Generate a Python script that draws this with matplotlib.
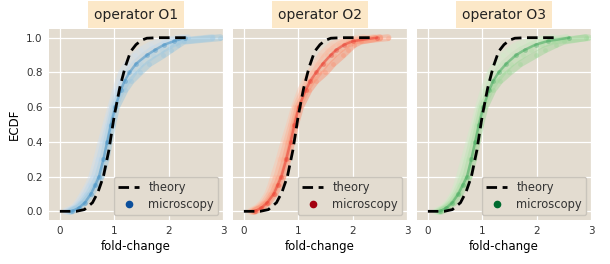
import numpy as np
import matplotlib
matplotlib.use("Agg")
import matplotlib.pyplot as plt

# ECDF levels shared by every measured series
ecdf_levels = [0.0, 0.02, 0.05, 0.1, 0.15, 0.2, 0.3, 0.4, 0.5, 0.6,
               0.7, 0.75, 0.8, 0.85, 0.9, 0.93, 0.96, 0.98, 1.0]

# theory curve
theory_fc = [0.0, 0.3, 0.45, 0.6, 0.7, 0.8, 0.9, 1.0, 1.1, 1.2, 1.3,
             1.4, 1.5, 1.6, 1.8, 2.4]
theory_ecdf = [0.0, 0.0, 0.01, 0.05, 0.11, 0.2, 0.35, 0.55, 0.71, 0.83,
               0.92, 0.96, 0.985, 0.997, 1.0, 1.0]

operators = ["O1", "O2", "O3"]
cmaps = ["Blues", "Reds", "Greens"]
legend_colors = ["#0b4f9c", "#a3000f", "#006b2f"]

# fold-change values at each ecdf level, several strains per operator
fc_O1 = [
    [0.10, 0.25, 0.33, 0.43, 0.52, 0.59, 0.68, 0.76, 0.85, 0.94, 1.03, 1.08, 1.14, 1.24, 1.38, 1.50, 1.68, 1.90, 2.25],
    [0.15, 0.28, 0.37, 0.48, 0.56, 0.64, 0.73, 0.81, 0.90, 0.97, 1.09, 1.16, 1.25, 1.38, 1.56, 1.70, 1.90, 2.05, 2.35],
    [0.18, 0.31, 0.41, 0.53, 0.62, 0.70, 0.79, 0.86, 0.93, 1.00, 1.14, 1.24, 1.36, 1.50, 1.72, 1.88, 2.05, 2.20, 2.80],
    [0.21, 0.34, 0.45, 0.58, 0.67, 0.76, 0.85, 0.91, 0.97, 1.04, 1.20, 1.31, 1.47, 1.64, 1.90, 2.04, 2.18, 2.28, 2.95],
    [0.22, 0.35, 0.46, 0.57, 0.65, 0.72, 0.80, 0.87, 0.94, 1.02, 1.12, 1.19, 1.28, 1.40, 1.60, 1.75, 1.92, 2.10, 2.30],
]
fc_O2 = [
    [0.12, 0.24, 0.34, 0.44, 0.50, 0.55, 0.65, 0.74, 0.84, 0.93, 1.05, 1.13, 1.22, 1.32, 1.42, 1.52, 1.62, 1.80, 2.20],
    [0.15, 0.27, 0.38, 0.48, 0.55, 0.61, 0.70, 0.79, 0.88, 0.96, 1.10, 1.19, 1.30, 1.40, 1.52, 1.62, 1.75, 1.92, 2.40],
    [0.18, 0.30, 0.42, 0.53, 0.60, 0.67, 0.76, 0.84, 0.92, 1.00, 1.15, 1.25, 1.38, 1.50, 1.65, 1.76, 1.90, 2.05, 2.65],
    [0.20, 0.33, 0.45, 0.57, 0.65, 0.72, 0.81, 0.88, 0.95, 1.04, 1.20, 1.32, 1.50, 1.64, 1.82, 1.92, 2.02, 2.15, 2.50],
    [0.20, 0.32, 0.43, 0.55, 0.62, 0.69, 0.78, 0.86, 0.93, 1.01, 1.14, 1.22, 1.33, 1.45, 1.60, 1.70, 1.85, 2.00, 2.45],
]
fc_O3 = [
    [0.15, 0.27, 0.37, 0.47, 0.53, 0.58, 0.67, 0.76, 0.85, 0.93, 1.03, 1.09, 1.15, 1.25, 1.38, 1.50, 1.65, 1.85, 2.30],
    [0.18, 0.30, 0.40, 0.51, 0.58, 0.64, 0.73, 0.81, 0.89, 0.97, 1.09, 1.17, 1.27, 1.40, 1.58, 1.72, 1.92, 2.10, 2.55],
    [0.21, 0.33, 0.44, 0.55, 0.63, 0.70, 0.78, 0.86, 0.93, 1.00, 1.15, 1.25, 1.38, 1.53, 1.75, 1.90, 2.10, 2.30, 2.95],
    [0.24, 0.36, 0.48, 0.59, 0.68, 0.76, 0.84, 0.91, 0.97, 1.05, 1.20, 1.32, 1.50, 1.70, 1.98, 2.15, 2.35, 2.50, 2.90],
    [0.22, 0.34, 0.45, 0.56, 0.64, 0.72, 0.80, 0.87, 0.94, 1.02, 1.13, 1.20, 1.30, 1.44, 1.62, 1.78, 1.98, 2.20, 2.60],
]
fc_data = [fc_O1, fc_O2, fc_O3]

bg = "#E3DCD0"
plt.rcParams["font.family"] = ["DejaVu Sans"]
plt.rcParams["text.color"] = "#333333"

fig = plt.figure(figsize=(6.1, 2.64), dpi=100)
lefts = [49 / 610, 233 / 610, 417 / 610]
w = 174 / 610
b = 44 / 264
h = 191 / 264

for i, op in enumerate(operators):
    ax = fig.add_axes([lefts[i], b, w, h])
    ax.set_facecolor(bg)
    for s in ax.spines.values():
        s.set_visible(False)
    ax.grid(True, color="white", lw=0.9)
    ax.set_axisbelow(True)

    cmap = plt.get_cmap(cmaps[i])
    series = fc_data[i]
    shades = [0.22, 0.28, 0.34, 0.40, 0.65]
    for j, fc in enumerate(series):
        c = cmap(shades[j])
        if j < 4:
            ax.plot(fc, ecdf_levels, "-", color=c, lw=5, alpha=0.45,
                    solid_capstyle="round", solid_joinstyle="round", zorder=2)
        else:
            ax.plot(fc, ecdf_levels, "-", color=c, lw=1.8, alpha=0.5,
                    solid_capstyle="round", zorder=2)
        ax.plot(fc, ecdf_levels, "o", color=c, ms=3.5, mec="none",
                alpha=0.35, zorder=2)

    ax.plot(theory_fc, theory_ecdf, "--", color="black", lw=2,
            dashes=(3.8, 2), zorder=3, label="theory")
    ax.plot([], [], "o", color=legend_colors[i], ms=4.5, ls="none",
            label="microscopy")

    ax.set_xlim(-0.2, 3.0)
    ax.set_ylim(-0.05, 1.05)
    ax.set_xticks([0, 1, 2, 3])
    ax.set_yticks([0, 0.2, 0.4, 0.6, 0.8, 1.0])
    ax.tick_params(length=0, labelsize=7.5, colors="#333333", pad=4.5)
    if i == 0:
        ax.set_yticklabels(["0.0", "0.2", "0.4", "0.6", "0.8", "1.0"])
        ax.set_ylabel("ECDF", fontsize=8.5, labelpad=4)
    else:
        ax.set_yticklabels([])
    ax.set_xlabel("fold-change", fontsize=8.5, labelpad=3)

    leg = ax.legend(loc="lower right", fontsize=8.3, frameon=True,
                    handlelength=1.8, borderpad=0.4, labelspacing=0.3,
                    borderaxespad=0.4, fancybox=True)
    leg.get_frame().set_facecolor(bg)
    leg.get_frame().set_edgecolor("#c9c4bb")
    leg.get_frame().set_alpha(1)

    ax.text(0.5, 1.075, "operator " + op, transform=ax.transAxes,
            ha="center", va="center", fontsize=10, color="#222222",
            bbox=dict(facecolor="#FCE8C8", edgecolor="none", pad=4.5))

fig.savefig("out.png", dpi=100, facecolor="white")
